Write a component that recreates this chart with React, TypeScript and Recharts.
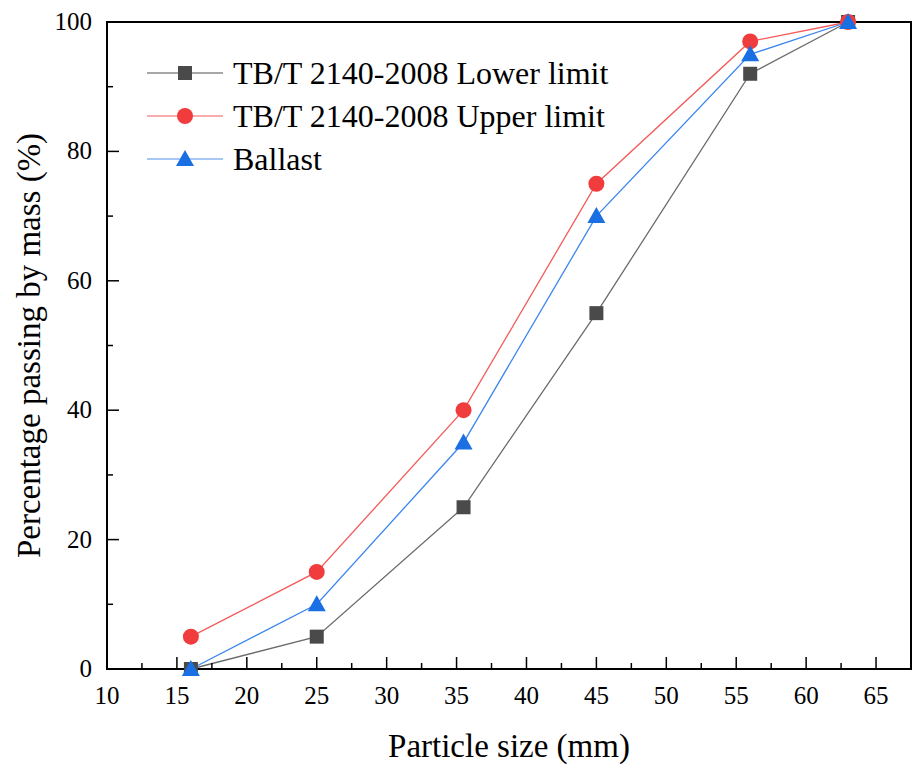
import React from "react";
import {
  LineChart,
  Line,
  XAxis,
  YAxis,
  ReferenceArea,
} from "recharts";

// sieve sizes (mm)
const sizes = [16, 25, 35.5, 45, 56, 63];
const lowerLimit = [0, 5, 25, 55, 92, 100];
const upperLimit = [5, 15, 40, 75, 97, 100];
const ballast = [0, 10, 35, 70, 95, 100];

const xTicks = [10, 12.5, 15, 17.5, 20, 22.5, 25, 27.5, 30, 32.5, 35, 37.5, 40, 42.5, 45, 47.5, 50, 52.5, 55, 57.5, 60, 62.5, 65];
const yTicks = [0, 10, 20, 30, 40, 50, 60, 70, 80, 90, 100];

const FONT = '"Liberation Serif", "Times New Roman", serif';

const data = sizes.map((s, i) => ({
  size: s,
  lower: lowerLimit[i],
  upper: upperLimit[i],
  ballast: ballast[i],
}));

const series = [
  { key: "lower", name: "TB/T 2140-2008 Lower limit", line: "#6b6b6b", legendLine: "#8a8a8a", mark: "#4a4a4a", shape: "square" },
  { key: "upper", name: "TB/T 2140-2008 Upper limit", line: "#f45a5a", legendLine: "#f79090", mark: "#f03c3c", shape: "circle" },
  { key: "ballast", name: "Ballast", line: "#3b86ee", legendLine: "#8ab6f2", mark: "#1a6fe3", shape: "triangle" },
];

function Marker({ cx, cy, shape, color }: any) {
  if (cx == null || cy == null) return null;
  if (shape === "square") {
    return <rect x={cx - 7} y={cy - 7} width={14} height={14} fill={color} />;
  }
  if (shape === "circle") {
    return <circle cx={cx} cy={cy} r={8} fill={color} />;
  }
  return (
    <polygon
      points={`${cx},${cy - 9} ${cx + 9},${cy + 7} ${cx - 9},${cy + 7}`}
      fill={color}
    />
  );
}

const XTick = ({ x, y, payload }: any) => {
  const v = payload.value;
  const major = v % 5 === 0;
  return (
    <g>
      <line x1={x} x2={x} y1={y} y2={y - (major ? 12 : 6)} stroke="#000" strokeWidth={1.5} />
      {major && (
        <text x={x} y={y + 35} textAnchor="middle" fontSize={25} fontFamily={FONT} fill="#000">
          {v}
        </text>
      )}
    </g>
  );
};

const YTick = ({ x, y, payload }: any) => {
  const v = payload.value;
  const major = v % 20 === 0;
  return (
    <g>
      <line x1={x} x2={x + (major ? 12 : 6)} y1={y} y2={y} stroke="#000" strokeWidth={1.5} />
      {major && (
        <text x={x - 15} y={y + 8} textAnchor="end" fontSize={25} fontFamily={FONT} fill="#000">
          {v}
        </text>
      )}
    </g>
  );
};

const LegendBox = () => (
  <div
    style={{
      position: "absolute",
      left: 147,
      top: 51,
      fontFamily: FONT,
      fontSize: 32,
      color: "#000",
    }}
  >
    {series.map((s) => (
      <div key={s.key} style={{ display: "flex", alignItems: "center", height: 43 }}>
        <svg width={86} height={30}>
          <line x1={0} x2={76} y1={15} y2={15} stroke={s.legendLine} strokeWidth={1.5} />
          <Marker cx={38} cy={15} shape={s.shape} color={s.mark} />
        </svg>
        <span style={{ lineHeight: "32px" }}>{s.name}</span>
      </div>
    ))}
  </div>
);

export default function App() {
  return (
    <div style={{ position: "absolute", left: 0, top: 0, background: "#fff" }}>
      <LineChart
        width={914}
        height={765}
        data={data}
        margin={{ top: 22, right: 3, left: 0, bottom: 0 }}
      >
        <XAxis
          dataKey="size"
          type="number"
          domain={[10, 67.5]}
          ticks={xTicks}
          interval={0}
          height={96}
          tickSize={0}
          tickMargin={0}
          tickLine={false}
          tick={<XTick />}
          axisLine={{ stroke: "#000", strokeWidth: 2 }}
          label={{
            value: "Particle size (mm)",
            position: "insideBottom",
            offset: 8,
            style: { fontFamily: FONT, fontSize: 33, fill: "#000" },
          }}
        />
        <YAxis
          type="number"
          domain={[0, 100]}
          ticks={yTicks}
          interval={0}
          width={107}
          tickSize={0}
          tickMargin={0}
          tickLine={false}
          tick={<YTick />}
          axisLine={{ stroke: "#000", strokeWidth: 2 }}
          label={{
            value: "Percentage passing by mass (%)",
            angle: -90,
            position: "insideLeft",
            offset: 28,
            style: { fontFamily: FONT, fontSize: 33, fill: "#000", textAnchor: "middle" },
          }}
        />
        <ReferenceArea
          x1={10}
          x2={67.5}
          y1={0}
          y2={100}
          fill="none"
          stroke="#000"
          strokeWidth={2}
          fillOpacity={0}
        />
        {series.map((s) => (
          <Line
            key={s.key}
            dataKey={s.key}
            name={s.name}
            type="linear"
            stroke={s.line}
            strokeWidth={1.3}
            dot={(p: any) => <Marker key={`${s.key}-${p.index}`} cx={p.cx} cy={p.cy} shape={s.shape} color={s.mark} />}
            activeDot={false}
            isAnimationActive={false}
          />
        ))}
      </LineChart>
      <LegendBox />
    </div>
  );
}
